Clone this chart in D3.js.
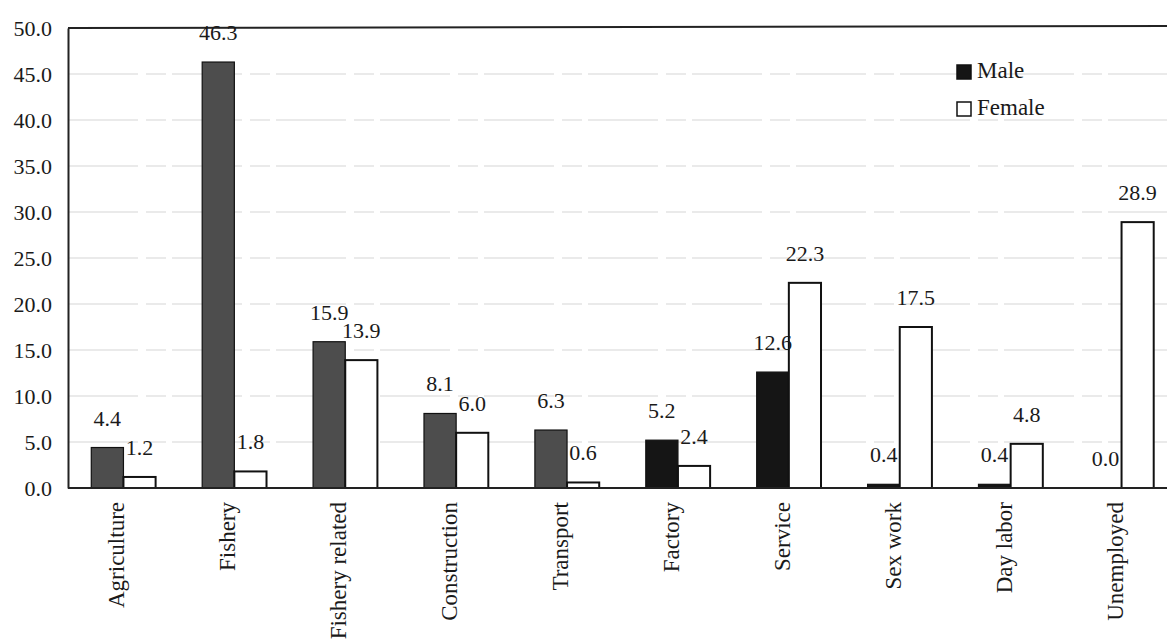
<!DOCTYPE html>
<html>
<head>
<meta charset="utf-8">
<script src="https://cdn.jsdelivr.net/npm/d3@7"></script>
<style>
  html, body { margin: 0; padding: 0; background: #ffffff; }
  svg { display: block; }
  text { font-family: "Liberation Serif", "Times New Roman", serif; fill: #1a1a1a; }
</style>
</head>
<body>
<svg id="chart" width="1167" height="639"></svg>
<script>
const categories = ["Agriculture", "Fishery", "Fishery related", "Construction", "Transport",
                    "Factory", "Service", "Sex work", "Day labor", "Unemployed"];
const male   = [4.4, 46.3, 15.9, 8.1, 6.3, 5.2, 12.6, 0.4, 0.4, 0.0];
const female = [1.2, 1.8, 13.9, 6.0, 0.6, 2.4, 22.3, 17.5, 4.8, 28.9];
const seriesNames = ["Male", "Female"];
const yTicks = [0, 5, 10, 15, 20, 25, 30, 35, 40, 45, 50];

const svg = d3.select("#chart");
const mLeft = 68, mRight = 1177, mTop = 28, mBottom = 488;

const x = d3.scaleBand().domain(categories).range([mLeft, mRight])
  .paddingInner(0.42).paddingOuter(0.21);
const xs = d3.scaleBand().domain(seriesNames).range([0, x.bandwidth()]);
const y = d3.scaleLinear().domain([0, 50]).range([mBottom, mTop]);

// gridlines
svg.append("g").selectAll("line").data(yTicks.filter(d => d > 0 && d < 50)).join("line")
  .attr("x1", mLeft).attr("x2", 1167)
  .attr("y1", d => y(d)).attr("y2", d => y(d))
  .attr("stroke", "#d6d6d6").attr("stroke-width", 1.2)
  .attr("stroke-dasharray", "70,8,20,6");

// top border
svg.append("line").attr("x1", mLeft).attr("x2", 1167).attr("y1", y(50)).attr("y2", y(50) - 2)
  .attr("stroke", "#222").attr("stroke-width", 2);

// y axis
const yAxis = d3.axisLeft(y).tickValues(yTicks).tickFormat(d3.format(".1f")).tickSize(0).tickPadding(16);
const ga = svg.append("g").attr("transform", `translate(${mLeft},0)`).call(yAxis);
ga.select(".domain").attr("stroke", "#222").attr("stroke-width", 2);
ga.selectAll("text").attr("font-size", 22).attr("font-family", "Liberation Serif").attr("fill", "#1a1a1a");

// bars
const maleColor = (i) => i < 5 ? "#4d4d4d" : "#151515";
const groups = svg.append("g").selectAll("g").data(categories).join("g")
  .attr("transform", d => `translate(${x(d)},0)`);

groups.append("rect")
  .attr("x", xs("Male")).attr("width", xs.bandwidth())
  .attr("y", (d, i) => y(male[i])).attr("height", (d, i) => y(0) - y(male[i]))
  .attr("fill", (d, i) => maleColor(i))
  .attr("stroke", "#111").attr("stroke-width", 1.2);

groups.append("rect")
  .attr("x", xs("Female")).attr("width", xs.bandwidth())
  .attr("y", (d, i) => y(female[i])).attr("height", (d, i) => y(0) - y(female[i]))
  .attr("fill", "#ffffff")
  .attr("stroke", "#111").attr("stroke-width", 2);

// value labels
groups.append("text")
  .attr("x", xs("Male") + xs.bandwidth() / 2)
  .attr("y", (d, i) => y(male[i]) - 22)
  .attr("text-anchor", "middle").attr("font-size", 22)
  .text((d, i) => male[i].toFixed(1));

groups.append("text")
  .attr("x", xs("Female") + xs.bandwidth() / 2)
  .attr("y", (d, i) => y(female[i]) - 22)
  .attr("text-anchor", "middle").attr("font-size", 22)
  .text((d, i) => female[i].toFixed(1));

// x axis line
svg.append("line").attr("x1", mLeft).attr("x2", 1167).attr("y1", mBottom).attr("y2", mBottom)
  .attr("stroke", "#222").attr("stroke-width", 2);

// category labels
svg.append("g").selectAll("text").data(categories).join("text")
  .attr("transform", d => `translate(${x(d) + x.bandwidth() / 2 + 1},${mBottom + 14}) rotate(-90)`)
  .attr("text-anchor", "end").attr("font-size", 23)
  .text(d => d);

// legend
const legend = svg.append("g").attr("transform", "translate(957,64)");
seriesNames.forEach((s, i) => {
  const g = legend.append("g").attr("transform", `translate(0,${i * 37})`);
  g.append("rect").attr("x", 0).attr("y", 1).attr("width", 14).attr("height", 14)
    .attr("fill", i === 0 ? "#151515" : "#fff").attr("stroke", "#111").attr("stroke-width", 1.5);
  g.append("text").attr("x", 20).attr("y", 14).attr("font-size", 23).text(s);
});
</script>
</body>
</html>
